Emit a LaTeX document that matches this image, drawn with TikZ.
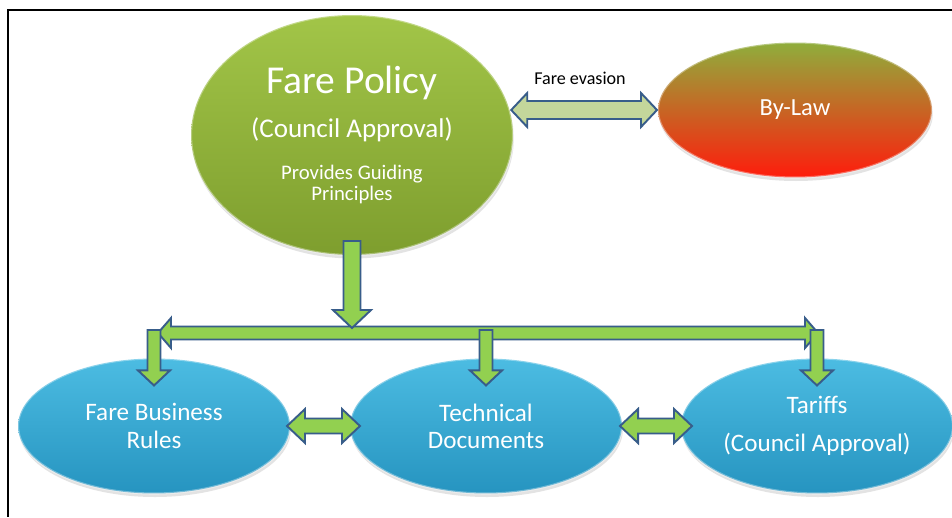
\documentclass[tikz,border=0pt]{standalone}
\usepackage{fontspec}
\setmainfont{Carlito}
\usetikzlibrary{calc,shadows,shapes.geometric}
\definecolor{fp-green1}{HTML}{A2C548}
\definecolor{fp-green2}{HTML}{7E9E2E}
\definecolor{fp-blue1}{HTML}{4CBCE2}
\definecolor{fp-blue2}{HTML}{2694C0}
\definecolor{fp-red1}{HTML}{8FAE3C}
\definecolor{fp-red2}{HTML}{D8682A}
\definecolor{fp-red3}{HTML}{FF1C0C}
\definecolor{fp-arrow}{HTML}{92D050}
\definecolor{fp-pale}{HTML}{C3D69B}
\definecolor{fp-edge}{HTML}{385D8A}

% block arrows: from, to, head length, head half width, shaft half width
\newcommand{\hblock}[6]{%
  \draw[#6] (#1) -- ($(#1)+(#3,-#4)$) -- ($(#1)+(#3,-#5)$) -- ($(#2)+(-#3,-#5)$)
    -- ($(#2)+(-#3,-#4)$) -- (#2) -- ($(#2)+(-#3,#4)$) -- ($(#2)+(-#3,#5)$)
    -- ($(#1)+(#3,#5)$) -- ($(#1)+(#3,#4)$) -- cycle;}
\newcommand{\vblock}[5]{%
  \draw[blockarrow] ($(#1)+(-#5,0)$) -- ($(#2)+(-#5,-#3)$) -- ($(#2)+(-#4,-#3)$)
    -- (#2) -- ($(#2)+(#4,-#3)$) -- ($(#2)+(#5,-#3)$) -- ($(#1)+(#5,0)$) -- cycle;}

\begin{document}
\begin{tikzpicture}[x=0.02cm,y=-0.02cm,
    oval/.style={ellipse,inner sep=0pt,align=center,text=white,
      draw=white,draw opacity=0.35,line width=1.2pt,
      drop shadow={opacity=0.22,shadow xshift=0.5pt,shadow yshift=-2pt}},
    greenoval/.style={oval,top color=fp-green1,bottom color=fp-green2,
      minimum width=6.44cm,minimum height=4.8cm},
    redoval/.style={oval,top color=fp-red1,middle color=fp-red2,bottom color=fp-red3,
      minimum width=5.48cm,minimum height=2.7cm,font=\fontsize{14}{17}\selectfont},
    blueoval/.style={oval,top color=fp-blue1,bottom color=fp-blue2,
      minimum width=5.44cm,minimum height=2.7cm,font=\fontsize{14.3}{15.5}\selectfont},
    blockarrow/.style={fill=fp-arrow,draw=fp-edge,line width=1.1pt},
    palearrow/.style={fill=fp-pale,draw=fp-edge,line width=1.1pt}]
  \useasboundingbox (0,0) rectangle (952,517);
  \fill[white] (0,0) rectangle (952,517);
  \draw[line width=1.2pt] (952,10) -- (8,10) -- (8,517);

  % top row
  \node[greenoval] (policy) at (352,135)
    {\fontsize{22.5}{26}\selectfont Fare Policy\\[9pt]
     \fontsize{15.4}{18}\selectfont (Council Approval)\\[12pt]
     \fontsize{11.8}{13}\selectfont Provides Guiding\\
     \fontsize{11.8}{13}\selectfont Principles};
  \node[redoval] (bylaw) at (795,110) {By-Law};

  % bottom row
  \node[blueoval] (rules) at (154,426) {Fare Business\\Rules};
  \node[blueoval] (docs) at (486,426) {Technical\\Documents};
  \node[blueoval] (tariffs) at (817,426) {Tariffs\\[6pt](Council Approval)};

  % connectors
  \coordinate (ev-l) at (policy.8 |- bylaw.west);
  \hblock{ev-l}{bylaw.west}{16}{17}{9}{palearrow}
  \node[font=\fontsize{10.3}{12}\selectfont] (evasion) at (580,78) {Fare evasion};

  \coordinate (bus-l) at (158,333);
  \coordinate (bus-r) at (818,333);
  \hblock{bus-l}{bus-r}{13}{15}{6.5}{blockarrow}
  \coordinate (pol-top) at ($(policy.south)+(0,-15)$);
  \coordinate (pol-tip) at ($(policy.south |- bus-l)+(0,-5)$);
  \vblock{pol-top}{pol-tip}{18}{19}{8.5}
  \foreach \t in {rules,docs,tariffs}{
    \coordinate (\t-top) at ($(bus-l -| \t.north)+(0,-3)$);
    \coordinate (\t-tip) at ($(\t.north)+(0,28)$);
    \vblock{\t-top}{\t-tip}{15}{16}{6.5}
  }
  \coordinate (rd-l) at ($(rules.east)+(-4,0)$);
  \coordinate (rd-r) at ($(docs.west)+(11,0)$);
  \hblock{rd-l}{rd-r}{18}{17}{7.5}{blockarrow}
  \coordinate (dt-l) at ($(docs.east)+(-3,0)$);
  \coordinate (dt-r) at ($(tariffs.west)+(12,0)$);
  \hblock{dt-l}{dt-r}{18}{17}{7.5}{blockarrow}
\end{tikzpicture}
\end{document}
